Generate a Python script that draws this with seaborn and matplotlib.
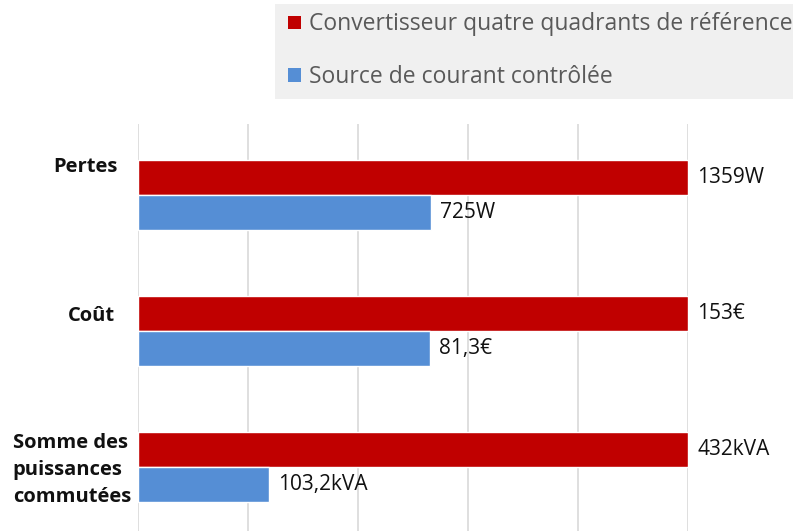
import matplotlib
matplotlib.use("Agg")
import matplotlib.pyplot as plt
import matplotlib.transforms as mtransforms
from matplotlib.patches import Patch, Rectangle
import numpy as np
import pandas as pd
import seaborn as sns

categories = ["Pertes", "Coût", "Somme des\npuissances\ncommutées"]
series = ["Convertisseur quatre quadrants de référence", "Source de courant contrôlée"]
reference_values = [1359, 153, 432]
controlled_values = [725, 81.3, 103.2]
reference_labels = ["1359W", "153€", "432kVA"]
controlled_labels = ["725W", "81,3€", "103,2kVA"]
colors = ["#C00000", "#558ED5"]

# Each quantity is shown relative to the reference converter
rows = []
for cat, ref, ctl in zip(categories, reference_values, controlled_values):
    rows.append({"cat": cat, "series": series[0], "ratio": ref / ref})
    rows.append({"cat": cat, "series": series[1], "ratio": ctl / ref})
df = pd.DataFrame(rows)

sns.set_style("white")
plt.rcParams["font.family"] = ["Open Sans", "DejaVu Sans"]

W, H = 793, 531
FS = 14.5
fig = plt.figure(figsize=(W / 100, H / 100), dpi=100)
ax = fig.add_axes([138 / W, 0, (688 - 138) / W, (531 - 124) / H])

sns.barplot(data=df, y="cat", x="ratio", hue="series", order=categories,
            hue_order=series, palette=colors, saturation=1, width=0.515,
            orient="h", ax=ax, legend=False)

ax.set_xlim(0, 1)
ax.set_ylim(2 + 64 / 136, -71 / 136)
ax.set_xticks(np.arange(0, 1.01, 0.2))
ax.grid(axis="x", color="#d9d9d9", lw=1.2)
ax.set_axisbelow(True)
ax.tick_params(length=0, labelbottom=False, labelleft=False)
ax.set_xlabel("")
ax.set_ylabel("")
for s in ax.spines.values():
    s.set_visible(False)

for cont, labs in zip(ax.containers, [reference_labels, controlled_labels]):
    ax.bar_label(cont, labels=labs, padding=6.5, fontsize=15, color="#111111")

# category labels on the left
tr = mtransforms.blended_transform_factory(ax.transAxes, ax.transData)
ax.text(-20 / 550, -23 / 136, categories[0], transform=tr, ha="right",
        va="baseline", fontsize=FS, fontweight="bold", color="#111111")
ax.text(-23 / 550, 1 - 10 / 136, categories[1], transform=tr, ha="right",
        va="baseline", fontsize=FS, fontweight="bold", color="#111111")
ax.text(-7 / 550, 2 + 3 / 136, categories[2], transform=tr, ha="right",
        va="center", multialignment="left", fontsize=FS, fontweight="bold",
        color="#111111", linespacing=1.5)

# legend panel
fig.add_artist(Rectangle((275 / W, 1 - 99 / H), 0.7, 95 / H,
                         transform=fig.transFigure, facecolor="#f0f0f0",
                         edgecolor="none", zorder=0))
handles = [Patch(facecolor=c, edgecolor="none") for c in colors]
fig.legend(handles=handles, labels=series, loc="upper left",
           bbox_to_anchor=(288 / W, 1 - 12.5 / H), frameon=False,
           fontsize=16.5, labelcolor="#595959", handlelength=0.57,
           handleheight=0.53, handletextpad=0.35, labelspacing=1.24,
           borderpad=0, borderaxespad=0)

fig.savefig("out.png", dpi=100)
